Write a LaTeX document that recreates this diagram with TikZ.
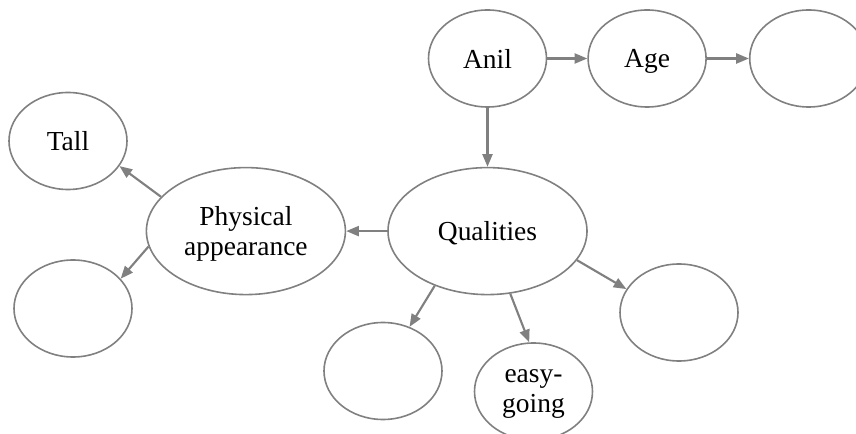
\documentclass[tikz,border=0pt]{standalone}
\usepackage{fontspec}
\setmainfont{Liberation Serif}
\usepackage{tikz}
\usetikzlibrary{shapes,arrows.meta,positioning}
\definecolor{linegray}{RGB}{128,128,128}

\begin{document}
\begin{tikzpicture}[x=0.75pt, y=-0.75pt]
    \tikzstyle{bubble} = [ellipse, draw=linegray, line width=1.2pt, inner sep=0pt, align=center, text depth=0pt, minimum width=88.5pt, minimum height=72.75pt, font=\fontsize{20.6}{22.5}\selectfont]
    \tikzstyle{bigbubble} = [bubble, minimum width=149.25pt, minimum height=95.25pt]
    \tikzstyle{arrow} = [draw=linegray, line width=1.6pt, -{Triangle[length=9.5pt,width=7.5pt]}, linegray]

    \useasboundingbox (0,0) rectangle (856,434);

    % Top row
    \node[bubble] (anil) at (487.5,58.5) {Anil};
    \node[bubble, right=30pt of anil] (age) {Age};
    \node[bubble, right=31.5pt of age] (ageval) {};

    % Middle
    \node[bigbubble, below=44.25pt of anil] (qual) {Qualities};
    \node[bigbubble, left=30.75pt of qual] (phys) {Physical\\appearance};

    % Leaves
    \node[bubble] (tall) at (68,141) {Tall};
    \node[bubble] (physval) at (73,308.5) {};
    \node[bubble] (qualone) at (383,371) {};
    \node[bubble] (easy) at (533.5,391.5) {easy-\\going};
    \node[bubble] (qualtwo) at (679,312.5) {};

    % Arrows
    \draw[arrow] (anil) -- (age);
    \draw[arrow] (age) -- (ageval);
    \draw[arrow] (anil) -- (qual);
    \draw[arrow] (qual) -- (phys);
    \draw[arrow] (phys.158.8) -- (tall.-26.1);
    \draw[arrow] (phys.189.9) -- (physval.32.1);
    \draw[arrow] (qual.226.6) -- (qualone.59.4);
    \draw[arrow] (qual.-70.5) -- (easy.95.3);
    \draw[arrow] (qual.-18.8) -- (qualtwo.156.6);
\end{tikzpicture}
\end{document}
